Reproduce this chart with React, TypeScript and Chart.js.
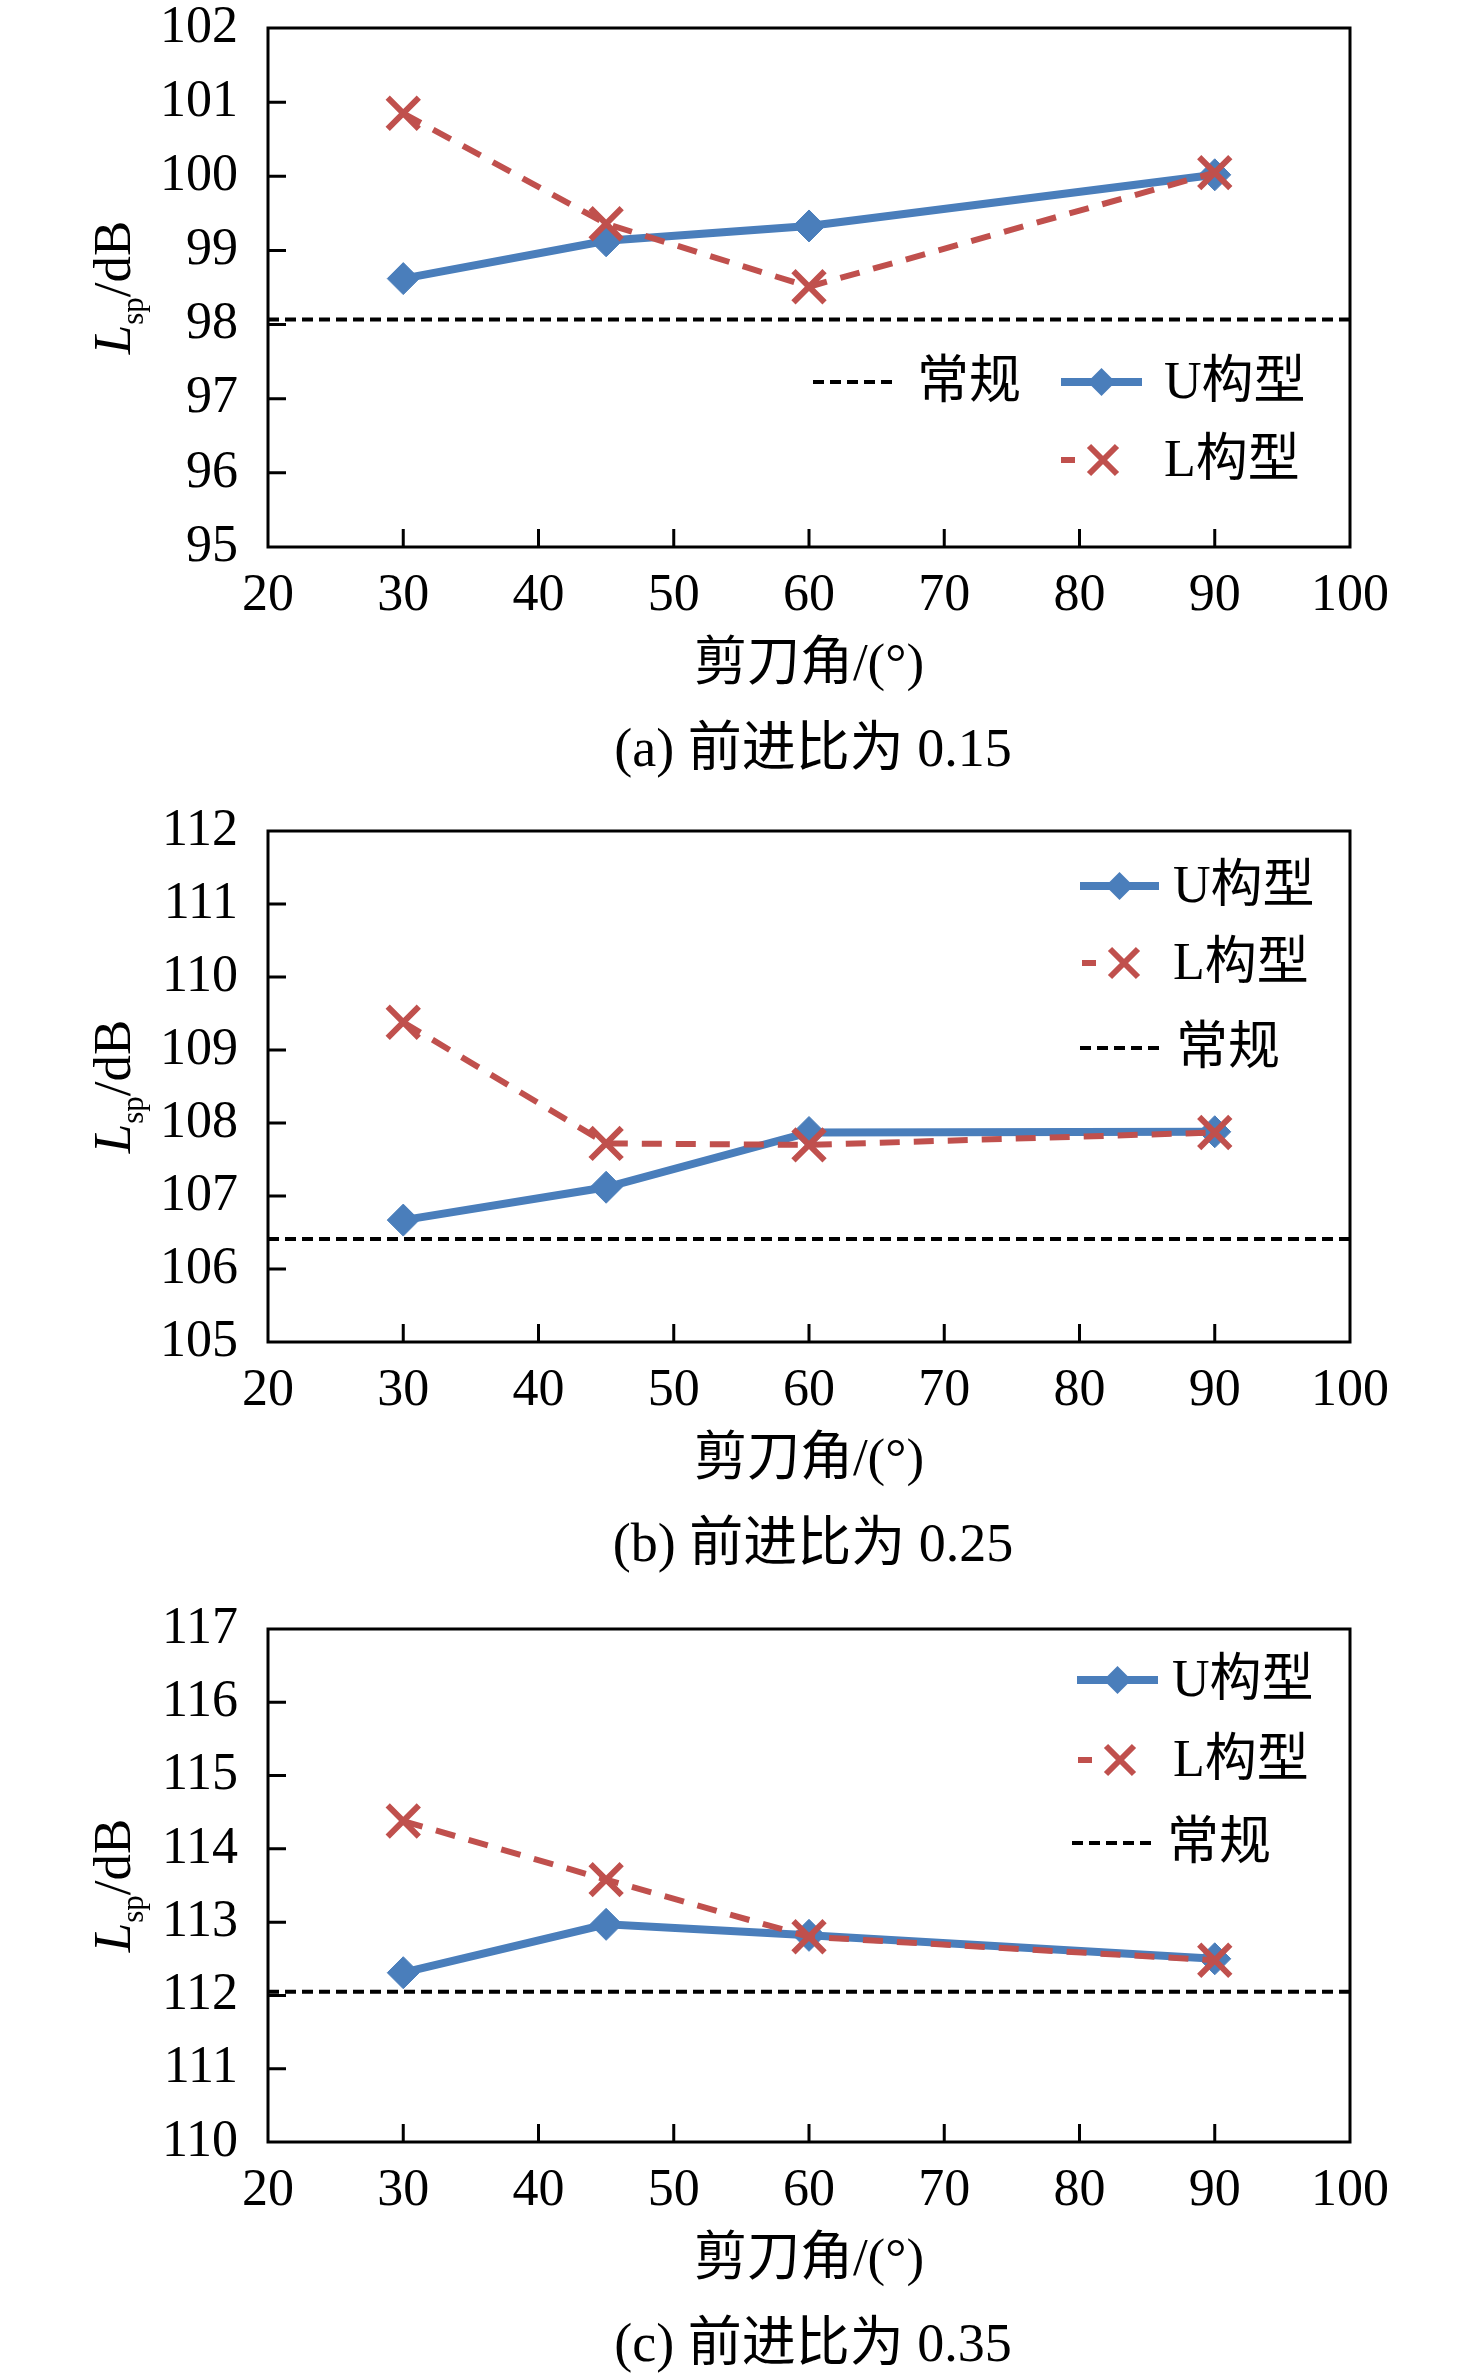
import { useEffect, useRef } from "react";
import { Chart, registerables } from "chart.js";

Chart.register(...registerables);

// shear angle (x) and sound level values
const angles = [30, 45, 60, 90];

const uA = [98.62, 99.13, 99.33, 100.02];
const lA = [100.85, 99.36, 98.51, 100.05];
const baseA = 98.07;

const uB = [106.67, 107.12, 107.87, 107.88];
const lB = [109.38, 107.72, 107.7, 107.87];
const baseB = 106.41;

const uC = [112.31, 112.97, 112.82, 112.5];
const lC = [114.38, 113.58, 112.8, 112.48];
const baseC = 112.05;

const xTicks = { min: 20, max: 100, step: 10 };
const yRangeA = [95, 102];
const yRangeB = [105, 112];
const yRangeC = [110, 117];

const captions = ["(a) 前进比为 0.15", "(b) 前进比为 0.25", "(c) 前进比为 0.35"];
const xTitle = "剪刀角/(°)";
const names = { u: "U构型", l: "L构型", base: "常规" };

const BLUE = "#4a7ebb";
const RED = "#c0504d";
const FONT = '"Liberation Serif", "Times New Roman", "Noto Sans CJK SC", serif';

const W = 1476;
const LEFT = 268;
const RIGHT = 1350;

type LegendRow = { kind: "u" | "l" | "base"; x1: number; x2: number; dy: number; tx: number };

const drawDiamond = (ctx, x, y, r) => {
  ctx.beginPath();
  ctx.moveTo(x, y - r);
  ctx.lineTo(x + r, y);
  ctx.lineTo(x, y + r);
  ctx.lineTo(x - r, y);
  ctx.closePath();
  ctx.fill();
};

const drawCross = (ctx, x, y, h) => {
  ctx.beginPath();
  ctx.moveTo(x - h, y - h);
  ctx.lineTo(x + h, y + h);
  ctx.moveTo(x + h, y - h);
  ctx.lineTo(x - h, y + h);
  ctx.stroke();
};

const framePlugin = (caption: string, legend: LegendRow[]) => ({
  id: "frame",
  afterDraw(chart) {
    const { ctx, chartArea: a, scales } = chart;
    const xs = scales.x;
    const ys = scales.y;
    ctx.save();
    ctx.strokeStyle = "#000";
    ctx.lineWidth = 3;
    ctx.strokeRect(a.left, a.top, a.right - a.left, a.bottom - a.top);

    // inward tick marks
    ctx.beginPath();
    ys.ticks.forEach((t) => {
      if (t.value === ys.min || t.value === ys.max) return;
      const py = ys.getPixelForValue(t.value);
      ctx.moveTo(a.left, py);
      ctx.lineTo(a.left + 18, py);
    });
    xs.ticks.forEach((t) => {
      if (t.value === xs.min || t.value === xs.max) return;
      const px = xs.getPixelForValue(t.value);
      ctx.moveTo(px, a.bottom);
      ctx.lineTo(px, a.bottom - 18);
    });
    ctx.stroke();

    // y title: L_sp/dB
    const midY = (a.top + a.bottom) / 2;
    ctx.translate(130, midY);
    ctx.rotate(-Math.PI / 2);
    ctx.fillStyle = "#000";
    ctx.textBaseline = "alphabetic";
    ctx.textAlign = "left";
    const big = `53px ${FONT}`;
    const ital = `italic 53px ${FONT}`;
    const small = `31px ${FONT}`;
    ctx.font = ital;
    const wL = ctx.measureText("L").width;
    ctx.font = small;
    const wS = ctx.measureText("sp").width;
    ctx.font = big;
    const wD = ctx.measureText("/dB").width;
    let x0 = -(wL + wS + wD) / 2;
    ctx.font = ital;
    ctx.fillText("L", x0, 0);
    x0 += wL;
    ctx.font = small;
    ctx.fillText("sp", x0, 13);
    x0 += wS;
    ctx.font = big;
    ctx.fillText("/dB", x0, 0);
    ctx.setTransform(1, 0, 0, 1, 0, 0);

    // x title and caption
    ctx.textAlign = "center";
    ctx.textBaseline = "middle";
    const cx = (a.left + a.right) / 2;
    ctx.font = `53px ${FONT}`;
    ctx.fillText(xTitle, cx, a.bottom + 119);
    ctx.font = `54px ${FONT}`;
    ctx.fillText(caption, cx + 4, a.bottom + 205);

    // legend
    ctx.textAlign = "left";
    legend.forEach((row) => {
      const y = a.top + row.dy;
      if (row.kind === "u") {
        ctx.strokeStyle = BLUE;
        ctx.fillStyle = BLUE;
        ctx.lineWidth = 8;
        ctx.setLineDash([]);
        ctx.beginPath();
        ctx.moveTo(row.x1, y);
        ctx.lineTo(row.x2, y);
        ctx.stroke();
        drawDiamond(ctx, (row.x1 + row.x2) / 2, y, 14);
      } else if (row.kind === "l") {
        ctx.strokeStyle = RED;
        ctx.lineWidth = 6;
        ctx.setLineDash([]);
        ctx.beginPath();
        ctx.moveTo(row.x1, y);
        ctx.lineTo(row.x1 + 14, y);
        ctx.stroke();
        drawCross(ctx, row.x1 + 42, y, 14);
      } else {
        ctx.strokeStyle = "#000";
        ctx.lineWidth = 4;
        ctx.setLineDash([11, 6]);
        ctx.beginPath();
        ctx.moveTo(row.x1, y);
        ctx.lineTo(row.x2, y);
        ctx.stroke();
        ctx.setLineDash([]);
      }
      ctx.fillStyle = "#000";
      ctx.font = `52px ${FONT}`;
      ctx.fillText(names[row.kind], row.tx, y + 2);
    });
    ctx.restore();
  },
});

type PanelProps = {
  height: number;
  top: number;
  bottom: number;
  yRange: number[];
  u: number[];
  l: number[];
  base: number;
  caption: string;
  legend: LegendRow[];
};

const Panel = ({ height, top, bottom, yRange, u, l, base, caption, legend }: PanelProps) => {
  const canvasRef = useRef(null);

  useEffect(() => {
    const ctx = canvasRef.current.getContext("2d");
    const chart = new Chart(ctx, {
      type: "line",
      data: {
        datasets: [
          {
            label: names.l,
            data: angles.map((a, i) => ({ x: a, y: l[i] })),
            borderColor: RED,
            borderWidth: 6,
            borderDash: [20, 14],
            pointStyle: "crossRot",
            pointRadius: 22,
            pointBorderWidth: 6,
            pointBorderColor: RED,
            pointBackgroundColor: RED,
            tension: 0,
            order: 0,
          },
          {
            label: names.u,
            data: angles.map((a, i) => ({ x: a, y: u[i] })),
            borderColor: BLUE,
            borderWidth: 8,
            pointStyle: "rectRot",
            pointRadius: 16,
            pointBorderWidth: 1,
            pointBorderColor: BLUE,
            pointBackgroundColor: BLUE,
            tension: 0,
            order: 1,
          },
          {
            label: names.base,
            data: [
              { x: xTicks.min, y: base },
              { x: xTicks.max, y: base },
            ],
            borderColor: "#000",
            borderWidth: 4,
            borderDash: [11, 6],
            pointRadius: 0,
            order: 2,
          },
        ],
      },
      options: {
        responsive: false,
        animation: false,
        layout: { padding: { left: 0, right: W - RIGHT, top: top, bottom: 0 } },
        plugins: { legend: { display: false }, tooltip: { enabled: false } },
        scales: {
          x: {
            type: "linear",
            min: xTicks.min,
            max: xTicks.max,
            ticks: {
              stepSize: xTicks.step,
              padding: 18,
              color: "#000",
              font: { family: FONT, size: 52 },
            },
            grid: { display: false, drawTicks: false },
            border: { display: false },
            afterFit: (s) => {
              s.height = height - bottom;
            },
          },
          y: {
            min: yRange[0],
            max: yRange[1],
            ticks: {
              stepSize: 1,
              padding: 30,
              color: "#000",
              font: { family: FONT, size: 52 },
            },
            grid: { display: false, drawTicks: false },
            border: { display: false },
            afterFit: (s) => {
              s.width = LEFT;
              s.paddingTop = 0;
              s.paddingBottom = 0;
            },
          },
        },
      },
      plugins: [framePlugin(caption, legend)],
    });
    return () => {
      chart.destroy();
    };
  }, []);

  return <canvas ref={canvasRef} width={W} height={height} style={{ display: "block" }} />;
};

const legendA: LegendRow[] = [
  { kind: "base", x1: 813, x2: 896, dy: 354, tx: 917 },
  { kind: "u", x1: 1061, x2: 1142, dy: 354, tx: 1164 },
  { kind: "l", x1: 1061, x2: 1142, dy: 432, tx: 1164 },
];
const legendB: LegendRow[] = [
  { kind: "u", x1: 1080, x2: 1159, dy: 55, tx: 1173 },
  { kind: "l", x1: 1082, x2: 1160, dy: 132, tx: 1173 },
  { kind: "base", x1: 1080, x2: 1160, dy: 217, tx: 1176 },
];
const legendC: LegendRow[] = [
  { kind: "u", x1: 1077, x2: 1158, dy: 51, tx: 1172 },
  { kind: "l", x1: 1078, x2: 1158, dy: 131, tx: 1173 },
  { kind: "base", x1: 1072, x2: 1152, dy: 214, tx: 1167 },
];

export default function App() {
  return (
    <div style={{ position: "absolute", left: 0, top: 0, width: W, background: "#fff" }}>
      <Panel height={800} top={25} bottom={547} yRange={yRangeA} u={uA} l={lA} base={baseA} caption={captions[0]} legend={legendA} />
      <Panel height={800} top={31} bottom={542} yRange={yRangeB} u={uB} l={lB} base={baseB} caption={captions[1]} legend={legendB} />
      <Panel height={775} top={29} bottom={542} yRange={yRangeC} u={uC} l={lC} base={baseC} caption={captions[2]} legend={legendC} />
    </div>
  );
}
